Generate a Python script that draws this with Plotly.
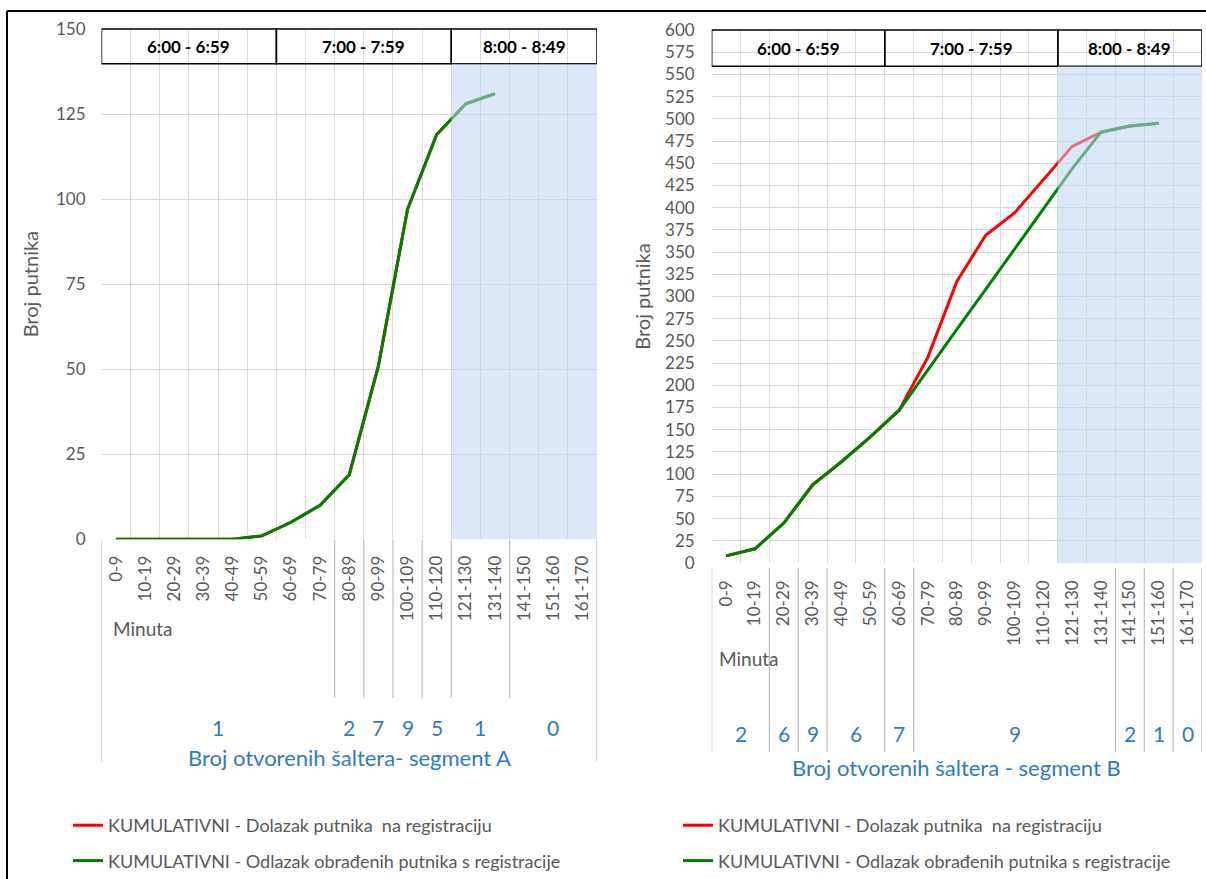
import plotly.graph_objects as go

# ---------------- data ----------------
categories = ["0-9", "10-19", "20-29", "30-39", "40-49", "50-59", "60-69", "70-79",
              "80-89", "90-99", "100-109", "110-120", "121-130", "131-140",
              "141-150", "151-160", "161-170"]

a_arrivals = [0, 0, 0, 0, 0, 1, 5, 10, 19, 51, 97, 119, 128, 131, None, None, None]
a_departures = [0, 0, 0, 0, 0, 1, 5, 10, 19, 51, 97, 119, 128, 131, None, None, None]

b_arrivals = [8, 16, 45, 88, 114, 142, 172, 232, 317, 369, 394, 431, 469, 485, 492, 495, None]
b_departures = [8, 16, 45, 88, 114, 142, 172, 218, 263, 308, 353, 398, 444, 485, 492, 495, None]

hour_labels = ["6:00 - 6:59", "7:00 - 7:59", "8:00 - 8:49"]
hour_spans = [6, 6, 5]

a_counter_labels = ["1", "2", "7", "9", "5", "1", "0"]
a_counter_spans = [8, 1, 1, 1, 1, 2, 3]
b_counter_labels = ["2", "6", "9", "6", "7", "9", "2", "1", "0"]
b_counter_spans = [2, 1, 1, 2, 1, 7, 1, 1, 1]

series_names = ["KUMULATIVNI - Dolazak putnika\u00a0\u00a0na registraciju",
                "KUMULATIVNI - Odlazak obrađenih putnika s registracije"]
y_title = "Broj putnika"
x_note = "Minuta"
a_title = "Broj otvorenih šaltera- segment A"
b_title = "Broj otvorenih šaltera - segment B"

# ---------------- layout helpers ----------------
W, H = 1206, 879
FONT = "Lato"
GREY = "#595959"
BLUE = "#2E7BC4"
RED = "#FF0000"
GREEN = "#008000"
GRID = "#D9D9D9"


def px(x):
    return x / W


def py(y):
    return 1 - y / H


fig = go.Figure()

panels = [
    dict(xa="x", ya="y", leg="legend", arr=a_arrivals, dep=a_departures,
         counters=(a_counter_labels, a_counter_spans), title=a_title),
    dict(xa="x2", ya="y2", leg="legend2", arr=b_arrivals, dep=b_departures,
         counters=(b_counter_labels, b_counter_spans), title=b_title),
]

for i, p in enumerate(panels):
    for name, vals, col in [(series_names[0], p["arr"], RED), (series_names[1], p["dep"], GREEN)]:
        fig.add_trace(go.Scatter(
            x=categories, y=vals, mode="lines", name=name,
            line=dict(color=col, width=3), xaxis=p["xa"], yaxis=p["ya"],
            legend=p["leg"], legendgroup=f"{p['leg']}-{col}",
            hoverinfo="skip"))

axis_common = dict(
    showgrid=True, gridcolor=GRID, gridwidth=1, zeroline=False, automargin=False,
    tickfont=dict(family=FONT, size=17, color=GREY), showline=False, ticks="",
)
legend_common = dict(xanchor="left", yanchor="top", bgcolor="rgba(0,0,0,0)",
                     font=dict(family=FONT, size=18, color=GREY),
                     tracegroupgap=9, itemwidth=30)

fig.update_layout(
    template="none",
    width=W, height=H, margin=dict(l=0, r=0, t=0, b=0, pad=0, autoexpand=False),
    paper_bgcolor="white", plot_bgcolor="white",
    font=dict(family=FONT, color=GREY),
    xaxis=dict(domain=[px(101.5), px(597)], type="category", tickson="boundaries",
               range=[-0.5, 16.5], tickangle=-90, ticklabelstandoff=12,
               anchor="y", **axis_common),
    yaxis=dict(domain=[py(539.3), py(29)], range=[0, 150], dtick=25,
               ticklabelstandoff=15, anchor="x",
               title=dict(text=y_title, font=dict(family=FONT, size=20, color=GREY), standoff=11),
               **axis_common),
    xaxis2=dict(domain=[px(711.7), px(1202)], type="category", tickson="boundaries",
                range=[-0.5, 16.5], tickangle=-90, ticklabelstandoff=13,
                anchor="y2", **axis_common),
    yaxis2=dict(domain=[py(563), py(30)], range=[0, 600], dtick=25,
                ticklabelstandoff=16, anchor="x2",
                title=dict(text=y_title, font=dict(family=FONT, size=20, color=GREY), standoff=9),
                **axis_common),
    legend=dict(x=px(68), y=py(807), **legend_common),
    legend2=dict(x=px(678), y=py(807), **legend_common),
    showlegend=True,
)

shapes = []
annotations = []
box_frac = 0.068
table_geom = [
    dict(top=540, inner_bottom=698, outer_bottom=762, num_y=727, title_y=757, note_y=628, note_x=0.02),
    dict(top=568, inner_bottom=752, outer_bottom=752, num_y=733, title_y=767, note_y=658, note_x=0.01),
]

for p, g in zip(panels, table_geom):
    xa, ya = p["xa"], p["ya"]
    # hour header boxes
    start = 0
    for lab, span in zip(hour_labels, hour_spans):
        shapes.append(dict(type="rect", xref=xa, yref=f"{ya} domain",
                           x0=start - 0.5, x1=start + span - 0.5, y0=1 - box_frac, y1=1,
                           line=dict(color="black", width=1.5), layer="above"))
        annotations.append(dict(text=f"<b>{lab}</b>", xref=xa, yref=f"{ya} domain",
                                x=start + span / 2 - 0.5, y=1 - box_frac / 2, showarrow=False,
                                xanchor="center", yanchor="middle",
                                font=dict(family=FONT, size=17, color="black")))
        start += span
    # shaded last hour
    last_start = sum(hour_spans[:-1])
    shapes.append(dict(type="rect", xref=xa, yref=f"{ya} domain",
                       x0=last_start - 0.5, x1=sum(hour_spans) - 0.5, y0=0, y1=1 - box_frac,
                       fillcolor="rgba(189,212,238,0.55)", line=dict(width=0), layer="above"))
    # counter table
    labels, spans = p["counters"]
    total = sum(spans)
    for xb in (-0.5, total - 0.5):
        shapes.append(dict(type="line", xref=xa, yref="paper", x0=xb, x1=xb,
                           y0=py(g["top"]), y1=py(g["outer_bottom"]),
                           line=dict(color="#BFBFBF", width=1.2)))
    start = 0
    for k, (lab, span) in enumerate(zip(labels, spans)):
        if k > 0:
            shapes.append(dict(type="line", xref=xa, yref="paper", x0=start - 0.5, x1=start - 0.5,
                               y0=py(g["top"]), y1=py(g["inner_bottom"]),
                               line=dict(color="#BFBFBF", width=1.2)))
        annotations.append(dict(text=lab, xref=xa, yref="paper", x=start + span / 2 - 0.5,
                                y=py(g["num_y"]), showarrow=False,
                                xanchor="center", yanchor="middle",
                                font=dict(family=FONT, size=21, color=BLUE)))
        start += span
    annotations.append(dict(text=p["title"], xref=f"{xa} domain", yref="paper", x=0.5,
                            y=py(g["title_y"]), showarrow=False,
                            xanchor="center", yanchor="middle",
                            font=dict(family=FONT, size=22, color=BLUE)))
    annotations.append(dict(text=x_note, xref=f"{xa} domain", yref="paper", x=g["note_x"],
                            xanchor="left", yanchor="middle", y=py(g["note_y"]), showarrow=False,
                            font=dict(family=FONT, size=19, color=GREY)))

# outer frame (top and left edges)
shapes.append(dict(type="line", xref="paper", yref="paper", x0=px(7), x1=px(7), y0=0, y1=py(11),
                   line=dict(color="black", width=2)))
shapes.append(dict(type="line", xref="paper", yref="paper", x0=px(7), x1=1, y0=py(11), y1=py(11),
                   line=dict(color="black", width=2)))

fig.update_layout(shapes=shapes, annotations=annotations)
fig.write_html("out.html", config={"displayModeBar": False},
               post_script="document.body.style.margin='0';document.body.style.overflow='hidden';")
